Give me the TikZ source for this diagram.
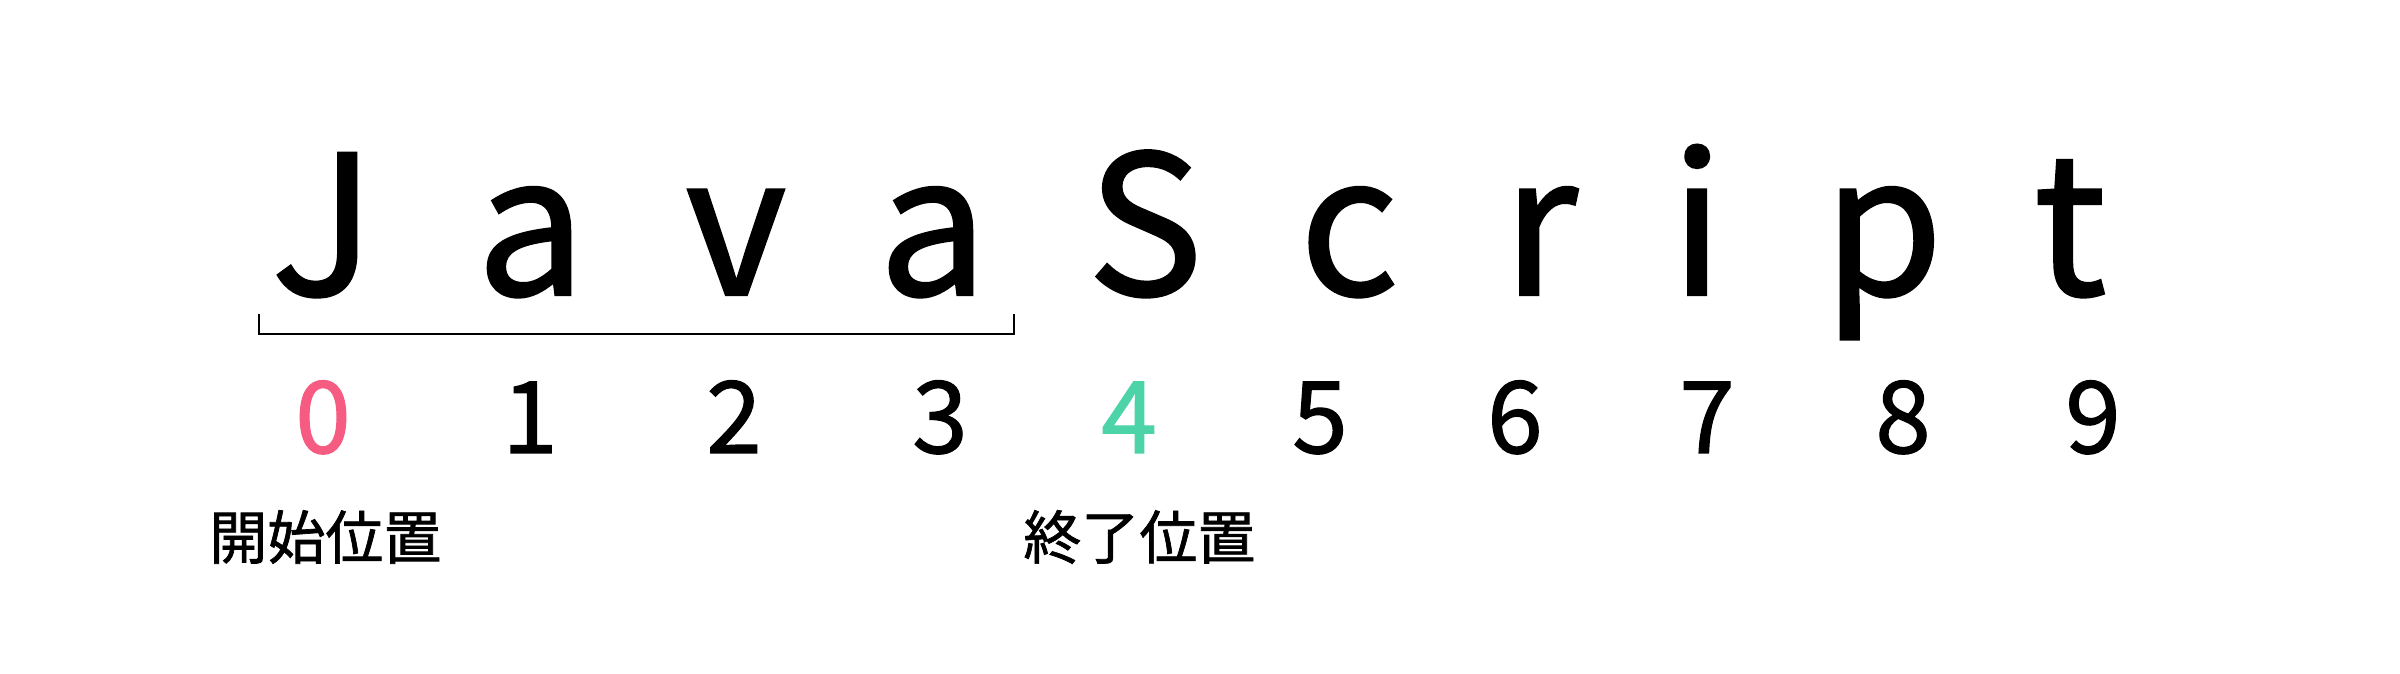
\documentclass[tikz,border=0pt]{standalone}
\usepackage{fontspec}
\setmainfont{Noto Sans CJK JP}[FakeBold=1.2]
\definecolor{startpink}{HTML}{F65B82}
\definecolor{endgreen}{HTML}{4CD3A8}
\begin{document}
\begin{tikzpicture}[x=0.5pt,y=0.5pt,
  letter/.style={anchor=base,inner sep=0pt,font=\fontsize{97}{97}\selectfont},
  digit/.style={anchor=base,inner sep=0pt,font=\fontsize{50}{50}\selectfont},
  label/.style={anchor=west,inner sep=0pt,font=\fontsize{29}{30}\selectfont},
  bracket/.style={draw=black,line width=1pt}]
\useasboundingbox (0,0) rectangle (2400,674);
% letters
\node[letter] (l0) at (323,379) {J};
\node[letter] (l1) at (531,379) {a};
\node[letter] (l2) at (736,379) {v};
\node[letter] (l3) at (933,379) {a};
\node[letter] (l4) at (1145,379) {S};
\node[letter] (l5) at (1349,379) {c};
\node[letter] (l6) at (1540,379) {r};
\node[letter] (l7) at (1697,379) {i};
\node[letter] (l8) at (1883,379) {p};
\node[letter] (l9) at (2070,379) {t};
% bracket
\coordinate (bla) at (259,360);
\coordinate (blb) at (259,340);
\coordinate (brb) at (1014,340);
\coordinate (bra) at (1014,360);
\draw[bracket] (bla) -- (blb) -- (brb) -- (bra);
% digits
\node[digit,text=startpink] (d0) at (323,221) {0};
\node[digit] (d1) at (530,221) {1};
\node[digit] (d2) at (734,221) {2};
\node[digit] (d3) at (940,221) {3};
\node[digit,text=endgreen] (d4) at (1129,221) {4};
\node[digit] (d5) at (1320,221) {5};
\node[digit] (d6) at (1515,221) {6};
\node[digit] (d7) at (1707,221) {7};
\node[digit] (d8) at (1903,221) {8};
\node[digit] (d9) at (2093,221) {9};
% labels
\node[label] (start) at (209,137) {開始位置};
\node[label] (end) at (1023,137) {終了位置};
\end{tikzpicture}
\end{document}
